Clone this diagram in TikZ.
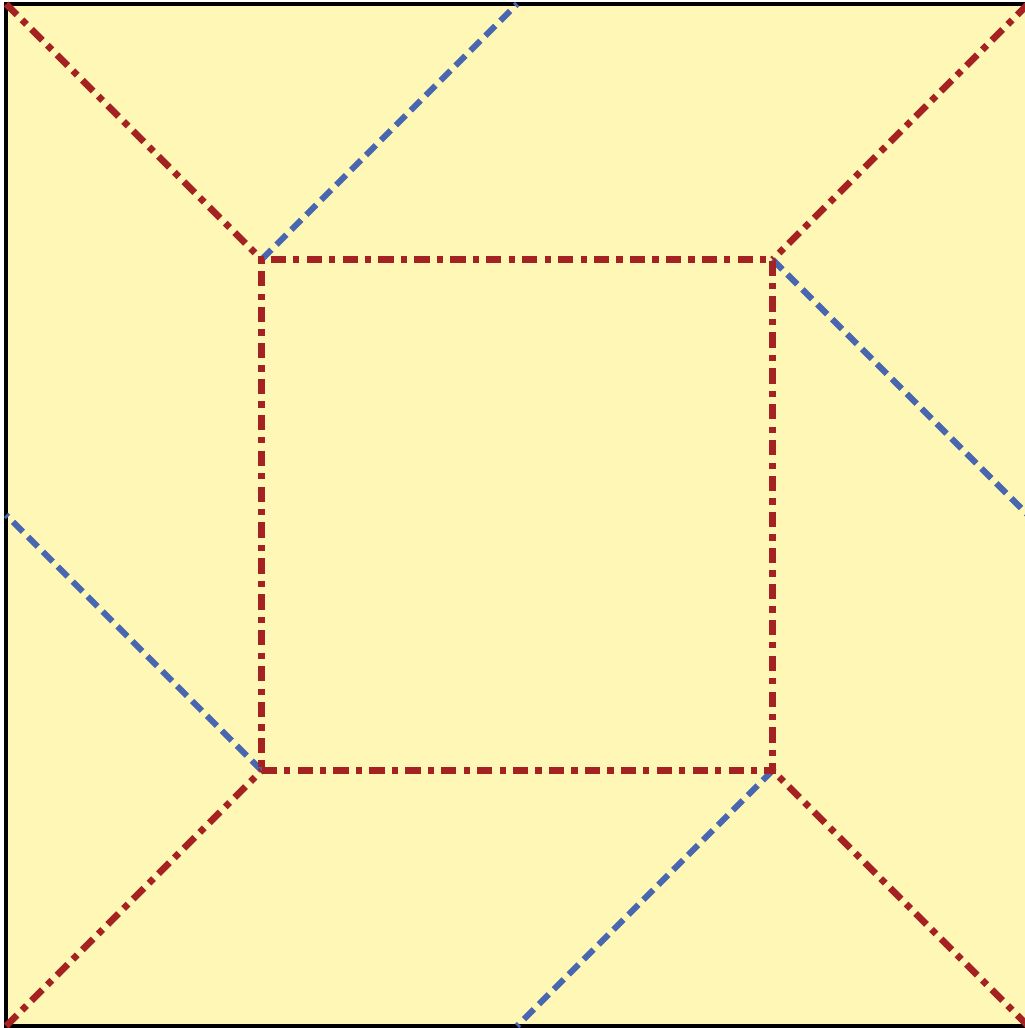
\documentclass[tikz,border=0pt]{standalone}
\usetikzlibrary{calc}
\definecolor{paleyellow}{HTML}{FFF7B5}
\definecolor{brickred}{HTML}{A52222}
\definecolor{steelblue}{HTML}{4867B0}

\begin{document}
\begin{tikzpicture}[
  x=2cm, y=2cm,
  redline/.style={brickred, line width=1.5pt, dash pattern=on 3.4pt off 1.6pt on 1.4pt off 1.6pt},
  blueline/.style={steelblue, line width=1.35pt, dash pattern=on 3.1pt off 1.6pt},
]

% Frame of the picture
\clip (-0.024,-0.008) rectangle (3.988,4.016);

% Outer square
\coordinate (OA) at (0,0);
\coordinate (OB) at (4,0);
\coordinate (OC) at (4,4);
\coordinate (OD) at (0,4);
\fill[paleyellow] (OA) rectangle (OC);
\draw[black, line width=0.9pt] (OA) rectangle (OC);

% Inner square
\coordinate (IA) at (1,1);
\coordinate (IB) at (3,1);
\coordinate (IC) at (3,3);
\coordinate (ID) at (1,3);

% Blue lines to the side midpoints
\draw[blueline] (ID) -- ($(OD)!0.5!(OC)$);
\draw[blueline] (IC) -- ($(OC)!0.5!(OB)$);
\draw[blueline] (IB) -- ($(OB)!0.5!(OA)$);
\draw[blueline] (IA) -- ($(OA)!0.5!(OD)$);

% Red lines to the outer corners
\draw[redline] (OA) -- (IA);
\draw[redline] (OB) -- (IB);
\draw[redline] (OC) -- (IC);
\draw[redline] (OD) -- (ID);
\draw[redline] (IA) -- (IB) -- (IC) -- (ID) -- cycle;

\end{tikzpicture}
\end{document}
